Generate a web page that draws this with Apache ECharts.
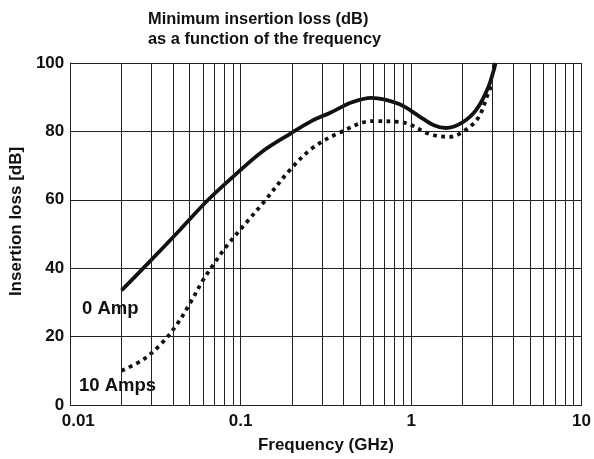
<!DOCTYPE html>
<html>
<head>
<meta charset="utf-8">
<script src="https://cdn.jsdelivr.net/npm/echarts@6/dist/echarts.min.js"></script>
<style>html,body{margin:0;padding:0;background:#fff}#c{width:594px;height:459px}</style>
</head>
<body>
<div id="c"></div>
<script>
// Data
const freq0 = [0.02, 0.0296, 0.0444, 0.0638, 0.0927, 0.133, 0.195, 0.26, 0.333, 0.45, 0.585, 0.85, 1.11, 1.36, 1.6, 1.98, 2.41, 2.84, 3.13];
const loss0 = [33.5, 42.2, 51.4, 59.8, 67.3, 74, 79.3, 83, 85.4, 88.5, 89.8, 88, 84.5, 81.8, 81, 82.5, 86.3, 93, 100];
const freq10 = [0.02, 0.027, 0.034, 0.0415, 0.0508, 0.0596, 0.069, 0.0834, 0.109, 0.135, 0.195, 0.265, 0.38, 0.59, 0.85, 1.0, 1.27, 1.67, 2.1, 2.5, 2.84, 2.97];
const loss10 = [10, 13.4, 17.8, 23, 30, 36.2, 41, 46.7, 53.6, 59, 68.8, 75.2, 79.6, 83, 82.8, 81.9, 79.3, 78.4, 80.5, 84.3, 91.3, 93.5];
const minorGrid = [0.02,0.03,0.04,0.05,0.06,0.07,0.08,0.09,0.2,0.3,0.4,0.5,0.6,0.7,0.8,0.9,2,3,4,5,6,7,8,9];
const xTickLabels = {0.01: '0.01', 0.1: '0.1', 1: '1', 10: '10'};
const seriesNames = ['0 Amp', '10 Amps'];

const font = '"Liberation Sans", Arial, sans-serif';
const gridColor = '#222';
const textColor = '#111';
const chart = echarts.init(document.getElementById('c'), null, {renderer: 'canvas'});
const pair = (xs, ys) => xs.map((x, i) => [x, ys[i]]);

chart.setOption({
  animation: false,
  title: {
    text: 'Minimum insertion loss (dB)\nas a function of the frequency',
    left: 148, top: 9, padding: 0, textAlign: 'left',
    textStyle: {fontFamily: font, fontWeight: 'bold', fontSize: 16.4, lineHeight: 20, color: textColor}
  },
  grid: {left: 69, right: 11, top: 63, bottom: 53},
  xAxis: {
    type: 'log', logBase: 10, min: 0.01, max: 10,
    name: 'Frequency (GHz)', nameLocation: 'middle', nameGap: 32,
    nameTextStyle: {fontFamily: font, fontWeight: 'bold', fontSize: 17, color: textColor},
    axisLine: {show: true, lineStyle: {color: gridColor, width: 1}},
    axisTick: {show: false},
    axisLabel: {
      margin: 8, fontFamily: font, fontWeight: 'bold', fontSize: 17, color: textColor,
      formatter: v => {
        const key = Object.keys(xTickLabels).find(k => Math.abs(+k - v) < 1e-9 * Math.max(1, v));
        const t = key ? xTickLabels[key] : '';
        return Math.abs(v - 0.01) < 1e-9 ? '{first|' + t + '}' : t;
      },
      rich: {first: {padding: [0, 0, 0, 16], fontFamily: font, fontWeight: 'bold', fontSize: 17, color: textColor}}
    },
    splitLine: {show: true, lineStyle: {color: gridColor, width: 1}}
  },
  yAxis: {
    type: 'value', min: 0, max: 100, interval: 20,
    name: 'Insertion loss [dB]', nameLocation: 'middle', nameGap: 45,
    nameTextStyle: {fontFamily: font, fontWeight: 'bold', fontSize: 17, color: textColor, padding: [0, 0, 0, 25]},
    axisLine: {show: true, lineStyle: {color: gridColor, width: 1}},
    axisTick: {show: false},
    axisLabel: {margin: 6, fontFamily: font, fontWeight: 'bold', fontSize: 17, color: textColor},
    splitLine: {show: true, lineStyle: {color: gridColor, width: 1}}
  },
  series: [
    {
      type: 'line', data: [], z: 1, silent: true,
      markLine: {
        silent: true, symbol: 'none', animation: false,
        label: {show: false},
        lineStyle: {color: gridColor, width: 1, type: 'solid'},
        data: minorGrid.map(v => ({xAxis: v}))
      }
    },
    {
      name: seriesNames[0], type: 'line', data: pair(freq0, loss0), smooth: 0.35, showSymbol: false, z: 3,
      lineStyle: {color: '#111', width: 3.8}
    },
    {
      name: seriesNames[1], type: 'line', data: pair(freq10, loss10), smooth: 0.35, showSymbol: false, z: 3,
      lineStyle: {color: '#111', width: 3.8, type: [3.8, 4.4], cap: 'butt'}
    }
  ],
  graphic: [
    {type: 'text', left: 82, top: 299, style: {text: seriesNames[0], font: 'bold 18.5px ' + font, fill: textColor}},
    {type: 'text', left: 79, top: 376, style: {text: seriesNames[1], font: 'bold 18.5px ' + font, fill: textColor}}
  ]
});
</script>
</body>
</html>
